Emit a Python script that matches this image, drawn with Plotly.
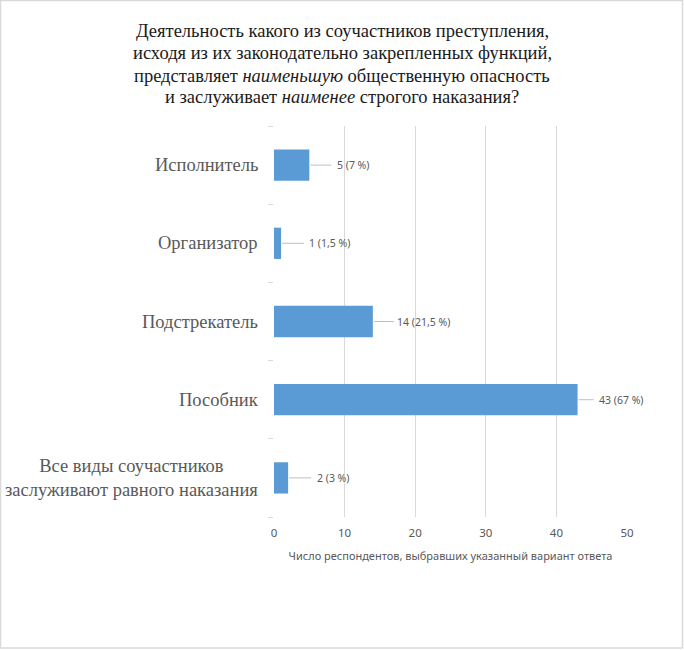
import plotly.graph_objects as go

# survey answers, top to bottom
categories = [
    "Исполнитель",
    "Организатор",
    "Подстрекатель",
    "Пособник",
    "Все виды соучастников<br>заслуживают равного наказания",
]
counts = [5, 1, 14, 43, 2]
shares = ["7", "1,5", "21,5", "67", "3"]
x_ticks = [0, 10, 20, 30, 40, 50]

title_lines = [
    "Деятельность какого из соучастников преступления,",
    "исходя из их законодательно закрепленных функций,",
    "представляет <i>наименьшую</i> общественную опасность",
    "и заслуживает <i>наименее</i> строгого наказания?",
]

# leader line length / label gap in px (Excel placed them by hand)
leader_len = [21, 22, 20, 15, 22]
label_gap = [27, 27, 23, 20, 28]

W, H = 684, 650
M_L, M_R, M_T, M_B = 274, 57, 126, 133
pw = W - M_L - M_R
ph = H - M_T - M_B

fig = go.Figure()
fig.add_trace(go.Bar(
    x=counts,
    y=list(range(len(categories))),
    orientation="h",
    width=0.4,
    marker=dict(color="#5b9bd5", line=dict(width=0)),
    hoverinfo="x",
))

# leader lines and data labels
for i, (v, s) in enumerate(zip(counts, shares)):
    fig.add_shape(
        type="line", xref="x", yref="y",
        xsizemode="pixel", xanchor=v, x0=1, x1=1 + leader_len[i],
        y0=i, y1=i,
        line=dict(color="#bfbfbf", width=1),
    )
    fig.add_annotation(
        x=v, y=i, xref="x", yref="y",
        text=f"{v} ({s} %)", showarrow=False,
        xanchor="left", xshift=label_gap[i] - 1,
        font=dict(family="Noto Sans", size=10.5, color="#595959"),
    )

# category labels, centred multi-line like the original
for i, c in enumerate(categories):
    fig.add_annotation(
        x=0, y=i, xref="paper", yref="y",
        text=c, showarrow=False, align="center",
        xanchor="right", xshift=-14,
        font=dict(family="Liberation Serif", size=18.5, color="#595959"),
    )

# title, one annotation per line to keep the tight line spacing
for k, line in enumerate(title_lines):
    y_px = 31.5 + 22 * k
    fig.add_annotation(
        x=(W / 2 - M_L) / pw, y=(H - M_B - y_px) / ph,
        xref="paper", yref="paper",
        text=line, showarrow=False,
        xanchor="center", yanchor="middle",
        font=dict(family="Liberation Serif", size=18.5, color="#1a1a1a"),
    )

# outer frame around the chart
fig.add_shape(
    type="rect", xref="paper", yref="paper",
    x0=-(M_L - 0.5) / pw, x1=(W - M_L - 1.5) / pw,
    y0=-(M_B - 2) / ph, y1=(H - M_B - 0.5) / ph,
    line=dict(color="#d9d9d9", width=1.5), layer="below",
)

fig.update_layout(
    width=W, height=H,
    margin=dict(l=M_L, r=M_R, t=M_T, b=M_B),
    paper_bgcolor="white", plot_bgcolor="white",
    showlegend=False,
    xaxis=dict(
        range=[0, 50], tickvals=x_ticks,
        showgrid=True, gridcolor="#d9d9d9", gridwidth=1,
        zeroline=False, showline=False, ticks="",
        ticklabelstandoff=7,
        tickfont=dict(family="Noto Sans", size=11.5, color="#595959"),
        title=dict(
            text="Число респондентов, выбравших указанный вариант ответа",
            font=dict(family="Noto Sans", size=11, color="#595959"),
            standoff=13,
        ),
    ),
    yaxis=dict(
        range=[len(categories) - 0.5, -0.5],
        tickvals=[i + 0.5 for i in range(-1, len(categories))],
        showticklabels=False,
        ticks="outside", ticklen=5, tickcolor="#d9d9d9",
        showgrid=False, zeroline=False, showline=False,
    ),
)

fig.write_html(
    "out.html",
    config={"displayModeBar": False},
    post_script="document.body.style.margin='0';document.body.style.overflow='hidden';",
)
